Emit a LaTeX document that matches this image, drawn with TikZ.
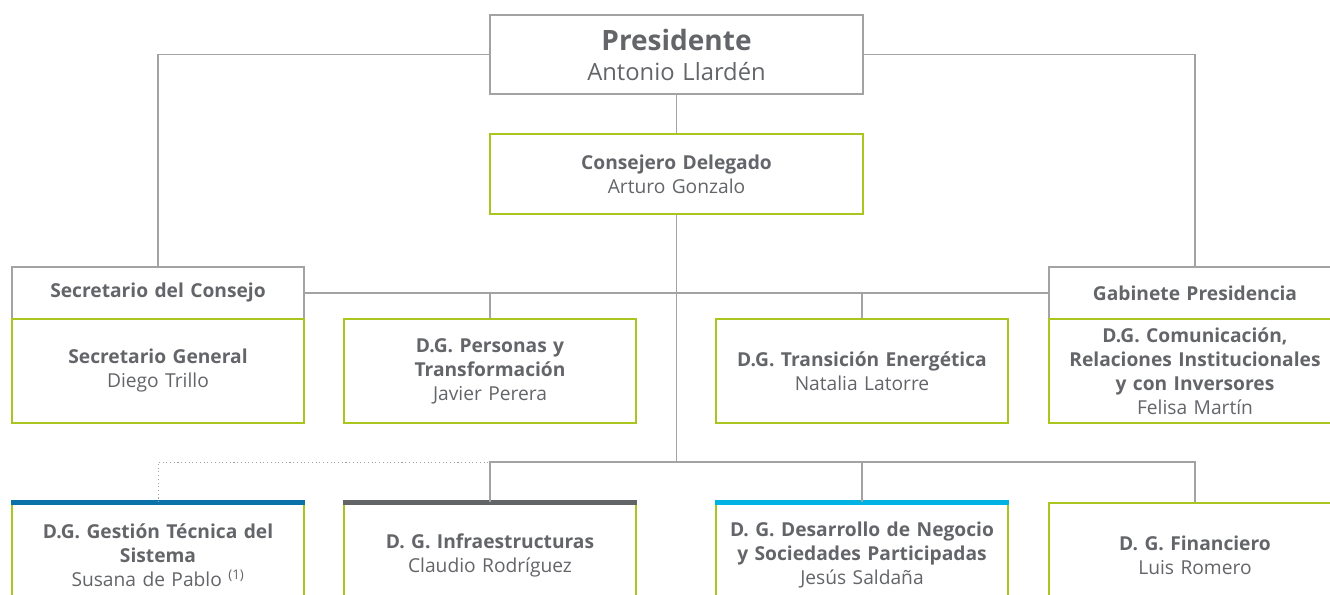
\documentclass[tikz,border=0pt]{standalone}
\usepackage{fontspec}
\setmainfont{Open Sans}
\usetikzlibrary{positioning}
\definecolor{Ink}{HTML}{636569}
\definecolor{Rule}{HTML}{A3A3A3}
\definecolor{Lime}{HTML}{A9C61E}
\definecolor{Navy}{HTML}{0A72A8}
\definecolor{Slate}{HTML}{636466}
\definecolor{Sky}{HTML}{00B2E3}
\tikzset{
  unit/.style={rectangle,draw=Lime,line width=1.1pt,fill=white,text=Ink,align=center,minimum width=219pt,minimum height=78pt,text width=214pt,inner sep=0pt,font=\fontsize{14.4}{18}\selectfont},
  board/.style={unit,draw=Rule,line width=.8pt},
  head/.style={board,minimum height=39pt},
  chair/.style={board,minimum width=279.75pt,minimum height=59.25pt,text width=270pt,font=\fontsize{17.8}{22.5}\selectfont},
  link/.style={draw=Rule,line width=.8pt},
  dotlink/.style={link,dotted,line width=.6pt},
  bar/.style={line width=3.75pt}
}
\begin{document}
\begin{tikzpicture}[x=.75pt,y=-.75pt]
    \fill[white] (0,0) rectangle (1330,594);
    \clip (0,0) rectangle (1330,594);
    % top of the chart
    \node[chair] (pres) at (676.5,54.5) {{\fontsize{21}{22.5}\selectfont\bfseries Presidente}\\Antonio Llardén};
    \node[unit,minimum width=279.75pt,minimum height=60pt] (ceo) at (676.5,174) {\textbf{Consejero Delegado}\\Arturo Gonzalo};
    % middle row
    \node[head] (secc) at (158,293) {\textbf{Secretario del Consejo}};
    \node[unit] (secg) at (158,371) {\textbf{Secretario General}\\Diego Trillo};
    \node[unit] (pers) at (490,371) {\textbf{D.G. Personas y}\\\textbf{Transformación}\\Javier Perera};
    \node[unit] (tran) at (862,371) {\textbf{D.G. Transición Energética}\\Natalia Latorre};
    \node[head] (gab) at (1195,293) {\textbf{Gabinete Presidencia}};
    \node[unit] (comm) at (1195,371) {\textbf{D.G. Comunicación,}\\\textbf{Relaciones Institucionales}\\\textbf{y con Inversores}\\Felisa Martín};
    % bottom row
    \node[unit] (gest) at (158,555) {\textbf{D.G. Gestión Técnica del}\\\textbf{Sistema}\\Susana de Pablo \textsuperscript{(1)}};
    \node[unit] (infra) at (490,555) {\textbf{D. G. Infraestructuras}\\Claudio Rodríguez};
    \node[unit] (des) at (862,555) {\textbf{D. G. Desarrollo de Negocio}\\\textbf{y Sociedades Participadas}\\Jesús Saldaña};
    \node[unit] (fin) at (1195,555) {\textbf{D. G. Financiero}\\Luis Romero};
    \draw[bar,Navy] (gest.north west) -- (gest.north east);
    \draw[bar,Slate] (infra.north west) -- (infra.north east);
    \draw[bar,Sky] (des.north west) -- (des.north east);
    % connectors
    \coordinate (hub) at (676.5,462);
    \draw[link] (pres.west) -| (secc.north);
    \draw[link] (pres.east) -| (gab.north);
    \draw[link] (pres.south) -- (ceo.north);
    \draw[link] (ceo.south) -- (hub);
    \draw[link] (secc.east) -- (gab.west);
    \draw[link] (pers.north |- secc.east) -- (pers.north);
    \draw[link] (tran.north |- secc.east) -- (tran.north);
    \draw[link] (infra.north) |- (fin.north |- hub) -- (fin.north);
    \draw[link] (des.north |- hub) -- (des.north);
    \draw[dotlink] (gest.north) |- (infra.north |- hub);
  \end{tikzpicture}
\end{document}
